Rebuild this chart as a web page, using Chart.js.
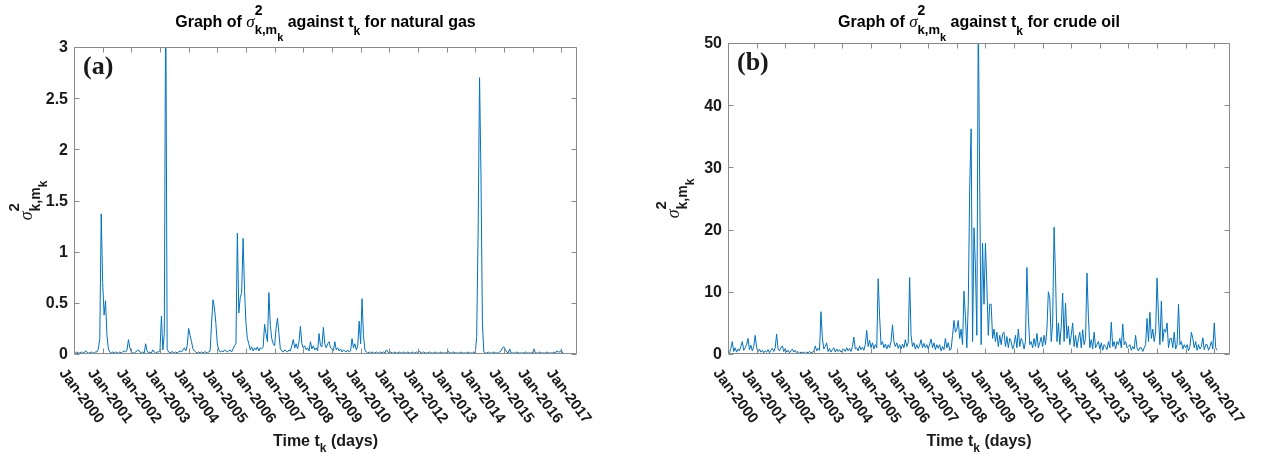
<!DOCTYPE html>
<html>
<head>
<meta charset="utf-8">
<script src="https://cdn.jsdelivr.net/npm/chart.js@4.4.1/dist/chart.umd.min.js"></script>
<style>
  html, body { margin: 0; padding: 0; background: #fff; }
  .wrap { display: flex; width: 1262px; height: 455px; }
  canvas { display: block; }
</style>
</head>
<body>
<div class="wrap">
  <canvas id="gasChart" width="631" height="455"></canvas>
  <canvas id="oilChart" width="631" height="455"></canvas>
</div>
<script>
// x axis: one tick per January
const tickYears = [2000, 2001, 2002, 2003, 2004, 2005, 2006, 2007, 2008,
                   2009, 2010, 2011, 2012, 2013, 2014, 2015, 2016, 2017];
const tickLabels = tickYears.map(y => 'Jan-' + y);

// readings, 20 per year starting Jan-2000
const startYear = 2000;
const sampleStep = 0.05;

const gasValues = [
  0.01,0.01,0.02,0.01,0.01,0.02,0.01,0.01,0.03,0.02,0.01,0.01,0.02,0.01,0.01,0.02,0.02,0.05,0.15,1.37, // 2000
  0.70,0.38,0.52,0.18,0.05,0.02,0.01,0.02,0.01,0.02,0.01,0.01,0.02,0.01,0.02,0.03,0.02,0.04,0.14,0.06, // 2001
  0.02,0.01,0.01,0.02,0.03,0.04,0.02,0.01,0.02,0.01,0.10,0.03,0.01,0.02,0.01,0.04,0.02,0.01,0.02,0.02, // 2002
  0.03,0.37,0.04,0.20,3.60,0.05,0.02,0.01,0.02,0.02,0.01,0.02,0.01,0.02,0.03,0.02,0.04,0.06,0.03,0.08, // 2003
  0.25,0.18,0.12,0.05,0.03,0.02,0.01,0.02,0.01,0.02,0.01,0.02,0.02,0.01,0.02,0.03,0.30,0.53,0.45,0.30, // 2004
  0.10,0.04,0.02,0.03,0.02,0.04,0.03,0.02,0.03,0.04,0.02,0.05,0.08,0.10,1.18,0.40,0.55,0.60,1.13,0.62, // 2005
  0.30,0.15,0.10,0.04,0.07,0.03,0.06,0.04,0.07,0.03,0.06,0.05,0.07,0.29,0.20,0.12,0.60,0.28,0.15,0.10, // 2006
  0.08,0.25,0.35,0.20,0.05,0.03,0.02,0.04,0.03,0.02,0.04,0.03,0.08,0.14,0.06,0.10,0.05,0.12,0.27,0.10, // 2007
  0.06,0.08,0.04,0.06,0.03,0.12,0.05,0.08,0.04,0.06,0.03,0.20,0.08,0.07,0.26,0.10,0.06,0.10,0.12,0.06, // 2008
  0.05,0.03,0.12,0.04,0.06,0.03,0.05,0.02,0.04,0.03,0.02,0.04,0.02,0.03,0.15,0.06,0.10,0.04,0.08,0.32, // 2009
  0.10,0.54,0.18,0.04,0.02,0.01,0.02,0.01,0.02,0.01,0.01,0.02,0.01,0.01,0.02,0.01,0.02,0.01,0.04,0.02, // 2010
  0.01,0.02,0.01,0.01,0.02,0.01,0.01,0.02,0.01,0.01,0.02,0.01,0.01,0.02,0.01,0.01,0.02,0.01,0.01,0.02, // 2011
  0.01,0.03,0.01,0.01,0.02,0.01,0.01,0.01,0.02,0.01,0.01,0.01,0.02,0.01,0.01,0.01,0.02,0.01,0.01,0.01, // 2012
  0.01,0.03,0.01,0.01,0.01,0.02,0.01,0.01,0.01,0.01,0.02,0.01,0.01,0.01,0.01,0.02,0.01,0.01,0.01,0.02, // 2013
  0.01,0.17,1.18,2.70,1.73,0.30,0.02,0.01,0.01,0.02,0.01,0.01,0.01,0.02,0.01,0.01,0.01,0.02,0.03,0.06, // 2014
  0.07,0.04,0.02,0.01,0.05,0.01,0.01,0.01,0.01,0.02,0.01,0.01,0.01,0.01,0.01,0.02,0.01,0.01,0.01,0.01, // 2015
  0.01,0.05,0.01,0.01,0.01,0.02,0.01,0.01,0.01,0.01,0.02,0.01,0.01,0.01,0.01,0.02,0.01,0.03,0.02,0.02, // 2016
  0.04,0.01                                                                                              // 2017
];

const oilValues = [
  0.5,0.2,0.9,2.0,0.4,1.0,0.3,0.8,0.5,1.2,2.0,0.6,1.0,1.5,2.5,0.7,1.4,0.5,1.2,3.0,          // 2000
  1.0,0.4,0.8,0.3,0.6,0.2,0.5,0.3,0.7,0.2,0.6,0.9,0.4,1.0,3.2,0.8,0.5,1.0,1.3,0.4,          // 2001
  0.9,0.3,0.6,0.2,0.5,0.8,0.3,0.6,0.2,0.4,0.1,0.3,0.2,0.3,0.1,0.3,0.2,0.4,0.2,0.3,          // 2002
  0.4,1.3,0.5,0.9,0.6,6.8,2.5,0.8,1.2,1.8,0.4,0.9,0.3,0.7,1.0,0.3,0.8,0.4,0.7,0.3,          // 2003
  0.6,0.8,0.4,1.0,0.5,0.9,0.4,1.2,2.7,0.8,1.0,0.5,1.3,0.7,1.1,0.6,1.5,3.8,1.2,2.2,          // 2004
  1.0,1.8,0.8,1.5,1.0,12.1,6.0,1.5,2.0,1.0,1.6,0.8,1.5,1.0,2.0,4.7,2.0,1.2,1.8,0.9,         // 2005
  1.5,0.8,1.6,1.0,2.3,1.2,1.8,12.3,3.0,1.2,1.8,0.8,1.5,0.9,1.4,2.3,1.0,1.7,1.0,1.5,         // 2006
  0.8,1.6,2.4,1.0,1.8,0.7,1.5,0.9,1.5,0.5,1.2,0.7,2.5,1.0,1.8,0.6,0.8,3.0,5.4,3.5,          // 2007
  4.0,5.4,2.5,4.0,1.5,10.1,6.0,1.0,8.0,26.8,36.2,2.0,20.3,14.0,3.0,55.0,27.1,1.5,17.8,8.0,  // 2008
  17.8,11.0,3.0,8.0,8.0,2.5,4.0,2.0,3.5,1.2,3.0,1.5,3.2,3.5,1.2,2.8,1.0,2.5,2.0,0.8,        // 2009
  1.5,3.0,1.0,4.0,1.2,2.5,2.0,0.8,2.0,13.9,6.0,1.5,2.0,1.0,2.5,1.2,3.3,1.0,1.8,2.7,         // 2010
  1.2,3.0,1.5,4.0,10.0,9.0,2.0,5.0,20.4,12.6,2.0,5.0,1.5,4.5,9.8,2.0,8.2,2.5,4.5,1.5,       // 2011
  3.0,5.0,1.2,3.0,1.0,2.5,3.5,1.0,3.9,1.5,2.5,13.0,6.0,1.0,2.3,0.8,3.5,1.0,1.5,2.0,         // 2012
  0.8,1.8,0.6,1.5,1.2,0.7,2.0,1.0,5.1,1.2,2.0,0.8,2.0,1.5,2.5,1.0,4.8,1.5,2.0,1.0,          // 2013
  1.2,1.5,0.6,1.2,0.8,3.0,1.0,0.5,1.0,1.0,0.4,1.0,1.5,5.7,2.0,6.7,2.5,4.0,2.0,3.5,          // 2014
  12.2,6.0,1.5,8.5,2.0,4.0,3.5,5.0,1.0,2.5,2.5,1.0,3.5,0.8,1.5,8.0,1.5,2.0,0.8,1.5,         // 2015
  1.0,1.5,0.5,1.2,3.5,2.5,1.0,2.0,0.6,1.5,0.8,1.2,2.6,0.7,1.5,1.5,0.6,1.2,2.0,0.8,          // 2016
  5.0,1.0,0.6                                                                                // 2017
];

const xEnd = 2017.55;

const textColor = '#1a1a1a';
const boxColor = '#8a8a8a';
const lineBlue = '#0072BD';

function boldFont(size) {
    return `bold ${size}px "Liberation Sans", Arial, Helvetica, sans-serif`;
}
function sigmaFont(size) {
    return `italic ${size}px "Liberation Serif", "Times New Roman", serif`;
}

// sigma^2_{k,m_k} with stacked super/subscript
function sigmaParts(size) {
    return [
        {text: 'σ', font: sigmaFont(size + 1)},
        {text: '2', font: boldFont(size - 2), dy: -Math.round(size * 0.75), hold: true},
        {text: 'k,m', font: boldFont(size - 3), dy: Math.round(size * 0.45)},
        {text: 'k', font: boldFont(size - 5), dy: Math.round(size * 0.9)}
    ];
}

// draws text pieces one after another on a shared baseline
function drawRich(ctx, parts, x, y, align) {
    let cursor = 0;
    const laid = [];
    parts.forEach(p => {
        ctx.font = p.font;
        laid.push({p: p, at: cursor});
        if (!p.hold) cursor += ctx.measureText(p.text).width;
    });
    const start = align === 'center' ? x - cursor / 2 : x;
    ctx.textAlign = 'left';
    ctx.textBaseline = 'alphabetic';
    laid.forEach(item => {
        ctx.font = item.p.font;
        ctx.fillText(item.p.text, start + item.at, y + (item.p.dy || 0));
    });
}

// MATLAB style box, inward ticks on all sides, labels and titles
const matlabAxes = {
    id: 'matlabAxes',
    afterDraw(chart, args, opts) {
        const ctx = chart.ctx;
        const area = chart.chartArea;
        const xs = chart.scales.x;
        const ys = chart.scales.y;
        const L = Math.round(area.left) + 0.5;
        const R = Math.round(area.right) - 0.5;
        const T = Math.round(area.top) + 0.5;
        const B = Math.round(area.bottom) - 0.5;
        const midX = (area.left + area.right) / 2;

        ctx.save();
        ctx.strokeStyle = boxColor;
        ctx.lineWidth = 1;
        ctx.beginPath();
        ctx.rect(L, T, R - L, B - T);
        tickYears.forEach(yr => {
            const px = Math.round(xs.getPixelForValue(yr)) + 0.5;
            ctx.moveTo(px, B); ctx.lineTo(px, B - 5);
            ctx.moveTo(px, T); ctx.lineTo(px, T + 5);
        });
        ys.ticks.forEach(t => {
            const py = Math.round(ys.getPixelForValue(t.value)) + 0.5;
            ctx.moveTo(L, py); ctx.lineTo(L + 5, py);
            ctx.moveTo(R, py); ctx.lineTo(R - 5, py);
        });
        ctx.stroke();

        ctx.fillStyle = textColor;

        // y tick labels
        ctx.font = boldFont(16);
        ctx.textAlign = 'right';
        ctx.textBaseline = 'middle';
        ys.ticks.forEach(t => {
            ctx.fillText(String(t.value), area.left - 6, ys.getPixelForValue(t.value) + 1);
        });

        // x tick labels, turned clockwise
        ctx.font = boldFont(15);
        ctx.textAlign = 'left';
        ctx.textBaseline = 'top';
        tickYears.forEach((yr, i) => {
            const px = xs.getPixelForValue(yr);
            ctx.save();
            ctx.translate(px - 6, area.bottom + 12);
            ctx.rotate(53 * Math.PI / 180);
            ctx.fillText(tickLabels[i], 0, 0);
            ctx.restore();
        });

        // panel tag
        ctx.font = 'bold 26px "Liberation Serif", "Times New Roman", serif';
        ctx.textAlign = 'left';
        ctx.textBaseline = 'alphabetic';
        ctx.fillText(opts.tag, area.left + 9, area.top + 27);

        // title
        ctx.fillStyle = '#000';
        drawRich(ctx, [{text: 'Graph of ', font: boldFont(16)}]
            .concat(sigmaParts(16))
            .concat([
                {text: ' against t', font: boldFont(16)},
                {text: 'k', font: boldFont(12), dy: 8},
                {text: ' for ' + opts.product, font: boldFont(16)}
            ]), midX, 27, 'center');

        // x axis title
        ctx.fillStyle = textColor;
        drawRich(ctx, [
            {text: 'Time t', font: boldFont(16)},
            {text: 'k', font: boldFont(12), dy: 6},
            {text: ' (days)', font: boldFont(16)}
        ], midX, 446, 'center');

        // y axis title
        ctx.save();
        ctx.translate(opts.yTitleX, (area.top + area.bottom) / 2);
        ctx.rotate(-Math.PI / 2);
        drawRich(ctx, sigmaParts(17), 0, 0, 'center');
        ctx.restore();

        ctx.restore();
    }
};

function makeChart(id, values, yMax, yStep, box, extra) {
    const points = values.map((v, i) => ({x: startYear + i * sampleStep, y: v}));
    return new Chart(document.getElementById(id), {
        type: 'line',
        data: {
            datasets: [{
                data: points,
                borderColor: lineBlue,
                borderWidth: 1,
                borderJoinStyle: 'round',
                pointRadius: 0,
                tension: 0,
                fill: false
            }]
        },
        options: {
            responsive: false,
            animation: false,
            devicePixelRatio: 1,
            parsing: false,
            layout: {padding: {left: 0, right: box.right, top: box.top, bottom: 0}},
            plugins: {
                legend: {display: false},
                tooltip: {enabled: false},
                matlabAxes: extra
            },
            scales: {
                x: {
                    type: 'linear',
                    min: startYear,
                    max: xEnd,
                    ticks: {display: false},
                    grid: {display: false},
                    border: {display: false},
                    afterFit: s => { s.height = box.bottomSpace; }
                },
                y: {
                    min: 0,
                    max: yMax,
                    ticks: {display: false, stepSize: yStep},
                    grid: {display: false},
                    border: {display: false},
                    afterFit: s => { s.width = box.left; }
                }
            }
        },
        plugins: [matlabAxes]
    });
}

makeChart('gasChart', gasValues, 3, 0.5,
    {left: 74, right: 54, top: 47, bottomSpace: 101},
    {tag: '(a)', product: 'natural gas', yTitleX: 32});

makeChart('oilChart', oilValues, 50, 10,
    {left: 97, right: 32, top: 43, bottomSpace: 101},
    {tag: '(b)', product: 'crude oil', yTitleX: 48});
</script>
</body>
</html>
